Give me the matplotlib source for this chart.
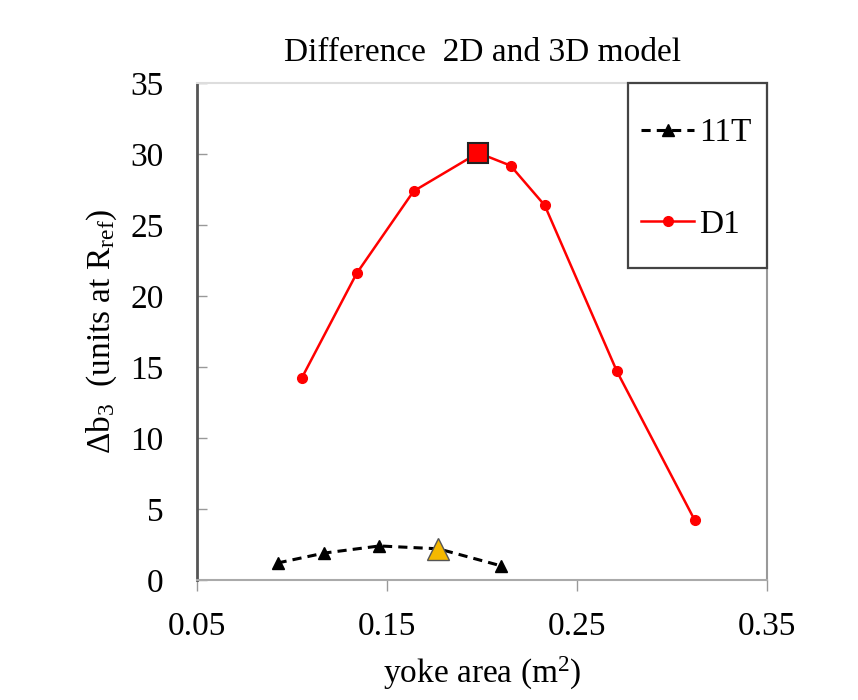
import matplotlib
matplotlib.use("Agg")
import matplotlib.pyplot as plt
from matplotlib.lines import Line2D
from matplotlib.patches import Rectangle

plt.rcParams['font.family'] = ['Liberation Serif', 'DejaVu Serif']
plt.rcParams['mathtext.fontset'] = 'custom'
plt.rcParams['mathtext.rm'] = 'Liberation Serif'
plt.rcParams['mathtext.it'] = 'Liberation Serif'

# 11T magnet
x_11t = [0.0924, 0.117, 0.146, 0.177, 0.210]
y_11t = [1.2, 1.9, 2.4, 2.2, 1.0]
sel_11t = 3  # highlighted point

# D1 magnet
x_d1 = [0.105, 0.134, 0.164, 0.198, 0.215, 0.233, 0.271, 0.312]
y_d1 = [14.2, 21.6, 27.4, 30.1, 29.2, 26.4, 14.7, 4.2]
sel_d1 = 3

FS = 24

fig = plt.figure(figsize=(8.58, 7.0), dpi=100)
ax = fig.add_axes([0.2296, 0.1714, 0.6644, 0.7096])

ax.plot(x_11t, y_11t, color='black', ls=(0, (3, 2)), lw=2.2, marker='^', ms=9, label='11T')
ax.plot(x_d1, y_d1, color='red', lw=1.8, marker='o', ms=7, label='D1')
ax.plot(x_11t[sel_11t], y_11t[sel_11t], marker='^', ms=16, color='#f5b800',
        mec='#555555', mew=1, ls='none')
ax.plot(x_d1[sel_d1], y_d1[sel_d1], marker='s', ms=14, color='red',
        mec='#222222', mew=1.5, ls='none')

ax.set_xlim(0.05, 0.35)
ax.set_ylim(0, 35)
ax.set_xticks([0.05, 0.15, 0.25, 0.35])
ax.set_xticklabels(['0.05', '0.15', '0.25', '0.35'])
ax.set_yticks(range(0, 36, 5))

ax.tick_params(axis='x', direction='out', length=8, width=1, color='#999999',
               labelsize=FS, pad=15)
ax.tick_params(axis='y', direction='in', length=7, width=1, color='#999999',
               labelsize=FS, pad=24)

ax.spines['left'].set_color('#555555')
ax.spines['left'].set_linewidth(2)
ax.spines['bottom'].set_color('#aaaaaa')
ax.spines['bottom'].set_linewidth(1.5)
ax.spines['right'].set_color('#999999')
ax.spines['right'].set_linewidth(1.5)
ax.spines['top'].set_color('#dddddd')
ax.spines['top'].set_linewidth(1.5)

ax.set_xlabel('yoke area (m$^2$)', fontsize=FS, labelpad=9)
ax.set_ylabel(r'$\Delta$b$_3$  (units at R$_{\rm ref}$)', fontsize=FS, labelpad=8)
ax.set_title('Difference  2D and 3D model', fontsize=FS, pad=16)

# legend box
ax.add_patch(Rectangle((0.756, 0.628), 0.244, 0.372, transform=ax.transAxes,
                       fill=False, edgecolor='#444444', lw=1.6, zorder=5,
                       clip_on=False))
handles = [Line2D([], [], color='black', ls=(0, (3, 2)), lw=2.2, marker='^', ms=9),
           Line2D([], [], color='red', lw=1.8, marker='o', ms=7)]
leg = ax.legend(handles, ['11T', 'D1'], loc='center', bbox_to_anchor=(0.876, 0.808),
                fontsize=FS, frameon=False, handlelength=1.6, handletextpad=0.15,
                labelspacing=1.82)

fig.savefig('out.png', dpi=100)
